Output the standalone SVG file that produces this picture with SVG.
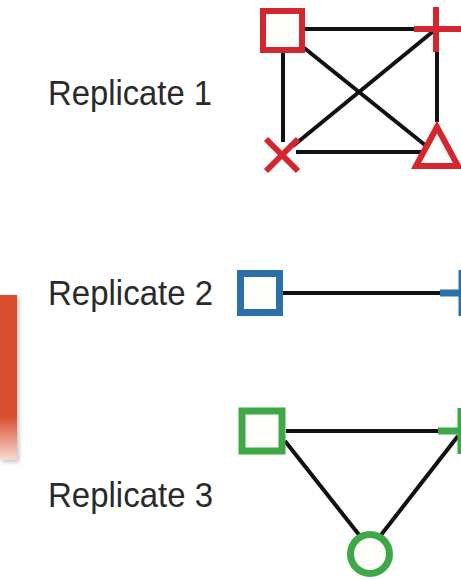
<svg xmlns="http://www.w3.org/2000/svg" width="461" height="580" viewBox="0 0 461 580">
  <defs>
    <linearGradient id="tabFill" x1="0" y1="0" x2="0" y2="1">
      <stop offset="0" stop-color="#d9502f"/>
      <stop offset="0.74" stop-color="#d9502f"/>
      <stop offset="1" stop-color="#f7dcd3"/>
    </linearGradient>
    <filter id="tabShadow" x="-50%" y="-10%" width="200%" height="120%">
      <feDropShadow dx="2" dy="2" stdDeviation="2" flood-color="#000" flood-opacity="0.25"/>
    </filter>
  </defs>
  <style>
    .label { font-family: "Liberation Sans", Arial, sans-serif; font-size: 35px; fill: #2a2a2a; }
    .edge { stroke: #111; stroke-width: 4; fill: none; stroke-linecap: butt; }
    .red { stroke: #d4262e; stroke-width: 6; fill: #fdfdf9; }
    .blue { stroke: #2b70a8; stroke-width: 7; fill: #fdfdf9; }
    .green { stroke: #3ea846; stroke-width: 7; fill: #fdfdf9; }
    .mark { fill: none; stroke-linecap: butt; }
  </style>
  <rect width="461" height="580" fill="#ffffff"/>

  <!-- side tab -->
  <rect x="0" y="295" width="17" height="165" fill="url(#tabFill)" filter="url(#tabShadow)"/>

  <!-- connectors -->
  <g id="connectors">
    <!-- replicate 1 -->
    <line class="edge" x1="305" y1="29" x2="414" y2="29"/>
    <line class="edge" x1="283" y1="53" x2="283" y2="142"/>
    <line class="edge" x1="437" y1="52" x2="437" y2="122"/>
    <line class="edge" x1="296" y1="152" x2="421" y2="152"/>
    <line class="edge" x1="303" y1="47" x2="425" y2="145"/>
    <line class="edge" x1="293" y1="146" x2="436" y2="29"/>
    <!-- replicate 2 -->
    <line class="edge" x1="283" y1="293" x2="440" y2="293"/>
    <!-- replicate 3 -->
    <line class="edge" x1="286" y1="431" x2="438" y2="431"/>
    <line class="edge" x1="285" y1="441" x2="360" y2="536"/>
    <line class="edge" x1="458" y1="436" x2="381" y2="535"/>
  </g>

  <!-- labels -->
  <g id="label-1"><text class="label" x="48" y="105" textLength="164" lengthAdjust="spacingAndGlyphs">Replicate 1</text></g>
  <g id="label-2"><text class="label" x="48" y="305" textLength="165" lengthAdjust="spacingAndGlyphs">Replicate 2</text></g>
  <g id="label-3"><text class="label" x="48" y="507" textLength="165" lengthAdjust="spacingAndGlyphs">Replicate 3</text></g>

  <!-- replicate 1 nodes -->
  <g id="r1-square"><rect class="red" x="263" y="11" width="39" height="39"/></g>
  <g id="r1-plus"><path class="red mark" d="M414 29 H461 M436 7 V52"/></g>
  <g id="r1-cross"><path class="red mark" d="M266 139 L298 171 M298 139 L266 171"/></g>
  <g id="r1-triangle"><path class="red" d="M437 127 L416 166 L458 166 Z"/></g>

  <!-- replicate 2 nodes -->
  <g id="r2-square"><rect class="blue" x="240.5" y="273.5" width="39" height="39"/></g>
  <g id="r2-plus"><path class="blue mark" d="M440 293 H484 M462 270 V316"/></g>

  <!-- replicate 3 nodes -->
  <g id="r3-square"><rect class="green" x="242" y="411" width="40" height="40"/></g>
  <g id="r3-plus"><path class="green mark" d="M438 431 H484 M461 408 V454"/></g>
  <g id="r3-circle"><circle class="green" cx="370" cy="554" r="19.5" stroke-width="6"/></g>
</svg>
